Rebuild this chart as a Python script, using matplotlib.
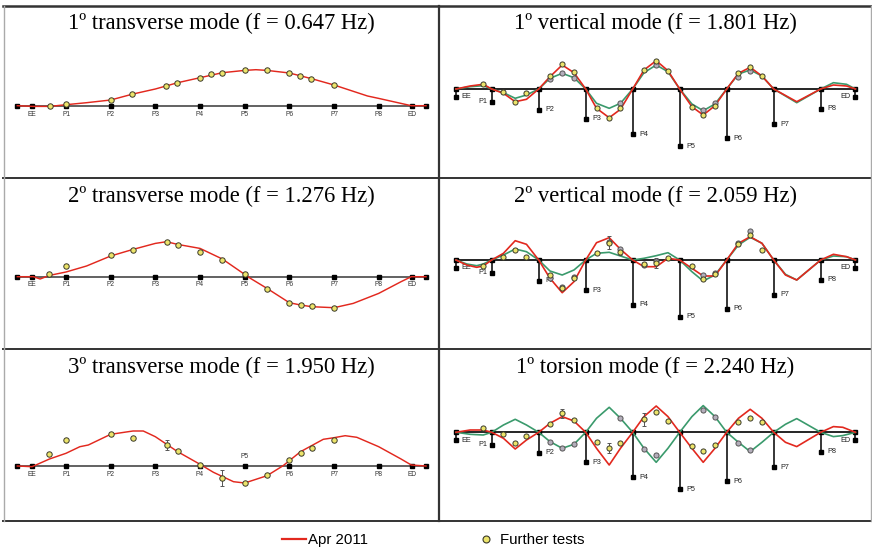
#!/usr/bin/env python3
"""Mode shapes of the bridge deck: Apr 2011 vs further tests (3x2 panel grid)."""

import matplotlib
matplotlib.use("Agg")
import matplotlib.pyplot as plt
from matplotlib.lines import Line2D

W, H = 872, 551
RED = "#e2281e"
GREEN = "#3a9a6c"
YELLOW = "#ece46a"
GRAY = "#b4aebb"
EDGE = "#3a3a2a"

# deck geometry (x in spans, P1 = 1)
deck_nodes = ["EE", "P1", "P2", "P3", "P4", "P5", "P6", "P7", "P8", "ED"]
deck_x = [0.24, 1, 2, 3, 4, 5, 6, 7, 8, 8.74]
deck_ext = [-0.09, 9.06]
pier_depth = [7.7, 12.5, 20.5, 30, 45, 57, 49, 35, 19.5, 7.7]

titles = [
    "1º transverse mode (f = 0.647 Hz)", "1º vertical mode (f = 1.801 Hz)",
    "2º transverse mode (f = 1.276 Hz)", "2º vertical mode (f = 2.059 Hz)",
    "3º transverse mode (f = 1.950 Hz)", "1º torsion mode (f = 2.240 Hz)",
]

# 1st transverse
t1_x = [-0.09, 0.27, 0.64, 1, 1.46, 2, 2.5, 3, 3.5, 4, 4.5, 5, 5.25, 5.5, 6, 6.5, 7,
        7.75, 8, 8.5, 8.73, 9.06]
t1_apr = [0, -0.7, -0.7, 1, 3, 5.7, 11.7, 16.7, 23, 28, 33, 35.3, 36, 35.3, 32.7, 27,
          20.7, 9.7, 7.3, 2.3, 0, 0]
t1_ft_x = [0.64, 1, 2, 2.48, 3.24, 3.49, 4, 4.24, 4.49, 5, 5.49, 6, 6.24, 6.49, 7]
t1_ft = [-0.7, 1.7, 5.7, 11.7, 20, 23, 28, 31.7, 33, 35.3, 35.3, 32.7, 30, 27, 20.7]

# 2nd transverse
t2_x = [-0.09, 0.27, 0.42, 0.63, 1, 1.46, 2, 2.5, 3, 3.25, 3.5, 4, 4.5, 4.75, 5, 5.13,
        5.5, 6, 6.25, 6.5, 7, 7.43, 8, 8.5, 8.73, 9.06]
t2_apr = [0, 0, -2.3, 1.3, 4.7, 10.7, 20.7, 27.3, 33.3, 35, 32.3, 28.3, 17.7, 10, 2.3,
          -1.7, -11.7, -26, -28.3, -30, -31, -26.7, -16.7, -5, 0, 0]
t2_ft_x = [0.63, 1, 2, 2.5, 3.25, 3.5, 4, 4.5, 5, 5.5, 6, 6.25, 6.5, 7]
t2_ft = [2.7, 11, 21.3, 26.3, 35, 31.3, 24.3, 16.7, 3, -12.3, -26.7, -28.3, -29.3, -31.3]

# 3rd transverse
t3_x = [-0.09, 0.24, 0.63, 1, 1.31, 1.5, 2, 2.5, 2.73, 3, 3.5, 4, 4.3, 4.75, 5, 5.5,
        5.86, 6.25, 6.76, 7, 7.25, 7.51, 8, 8.5, 8.73, 9.06]
t3_apr = [0, -0.7, 7, 12.7, 19.3, 21, 31.7, 35, 35, 29.3, 14.3, 1.7, -6.3, -15.7, -17,
          -9.7, 0.3, 14.3, 26.7, 28.3, 30.3, 28.7, 19.3, 7, 1, 0]
t3_ft_x = [0.63, 1, 2, 2.5, 3.25, 3.5, 4, 4.5, 5, 5.5, 6, 6.25, 6.5, 7]
t3_ft = [11.7, 25.7, 31.7, 28.3, 21, 15.3, 1, -11.7, -17, -9, 5.7, 12.7, 18.3, 25.7]
t3_err_x = [3.25, 4.5]
t3_err_y = [21, -11.7]
t3_err = [5, 8]

# 1st vertical
v1_x = [0.24, 0.54, 0.82, 1, 1.25, 1.5, 1.74, 2, 2.24, 2.5, 2.75, 3, 3.23, 3.5, 3.74, 4,
        4.24, 4.5, 4.75, 5, 5.26, 5.5, 5.75, 6, 6.25, 6.5, 6.75, 7, 7.49, 8, 8.27, 8.55,
        8.74]
v1_apr = [0, 3, 4.7, 0, -4.3, -12.7, -10.3, 0, 12.3, 24, 16.3, 0, -19.3, -28.7, -20.3,
          0, 19, 28.3, 18.3, 0, -17.7, -26, -16.7, 0, 15.7, 21.7, 13, 0, -12.7, 0, 4, 3, 0]
v1_num = [0, 2.3, 3.3, 0, -3.7, -9.3, -6, 0, 10.7, 15.7, 11.3, 0, -14.3, -19.3, -14.3,
          0, 16.3, 24, 17.3, 0, -15, -21.7, -15, 0, 15, 19, 13, 0, -13.7, 0, 6.3, 4.7, 0]
v1_ft_x = [0.82, 1.25, 1.5, 1.74, 2.24, 2.5, 2.75, 3.23, 3.5, 3.74, 4.24, 4.5, 4.75,
           5.26, 5.5, 5.75, 6.25, 6.5, 6.75]
v1_ft = [4.7, -2.7, -12.7, -4.3, 13.3, 25, 16.7, -19.3, -28.7, -19.3, 19, 28.3, 18.3,
         -17.7, -26.3, -17, 16.3, 21.7, 13.3]
v1_oth_x = [2.24, 2.5, 2.75, 3.74, 4.5, 5.5, 5.75, 6.25, 6.5]
v1_oth = [10.3, 15.7, 11.3, -14.3, 24, -21, -13.7, 11.7, 18]

# 2nd vertical
v2_x = [0.24, 0.47, 0.68, 0.82, 1, 1.25, 1.5, 1.74, 2, 2.24, 2.5, 2.75, 3, 3.23, 3.5,
        3.74, 4, 4.24, 4.5, 4.75, 5, 5.26, 5.5, 5.75, 6, 6.25, 6.5, 6.75, 7, 7.25, 7.49,
        8, 8.27, 8.55, 8.74]
v2_apr = [0, -5, -7.3, -6, 0, 6.7, 19.3, 15.7, 0, -18.3, -32.7, -21.7, 0, 17.3, 22.3,
          10.7, 0, -6.7, -6.7, 1.7, 0, -8.3, -16, -16, 0, 16.7, 23.3, 16.7, 0, -15, -20,
          0, 5.7, 3.3, 0]
v2_num = [0, -4, -5.7, -4, 0, 5, 11, 8.3, 0, -11, -15, -10, 0, 6.7, 7.7, 4, 0, 1.7, 4.3,
          7.3, 0, -11.7, -21, -15, 0, 15, 22.7, 16.7, 0, -14.3, -20, 0, 4, 3.3, 0]
v2_ft_x = [0.82, 1.25, 1.5, 1.74, 2.24, 2.5, 2.75, 3.23, 3.5, 3.74, 4.24, 4.5, 4.75,
           5.26, 5.5, 5.75, 6.25, 6.5, 6.75]
v2_ft = [-5.7, 3.3, 10, 3.3, -15, -28.3, -18.3, 7.3, 17.3, 8.3, -4, -2.7, 1.7, -5.7,
         -19.3, -14.3, 15.7, 25, 10]
v2_oth_x = [2.24, 2.5, 2.75, 3.5, 3.74, 4.24, 4.5, 5.5, 5.75, 6.25, 6.5]
v2_oth = [-18.3, -26.7, -16.7, 18.3, 10.7, -5, -0.7, -15, -12.7, 16.7, 29.3]
v2_err_x = [3.5, 3.74, 4.5]
v2_err_y = [17.3, 8.3, -2.7]
v2_err = [6.7, 3, 5]

# 1st torsion
to_x = [0.24, 0.54, 0.82, 1, 1.25, 1.5, 1.74, 2, 2.24, 2.5, 2.75, 3, 3.23, 3.5, 3.74, 4,
        4.24, 4.5, 4.75, 5, 5.26, 5.5, 5.75, 6, 6.25, 6.5, 6.75, 7, 7.25, 7.49, 8, 8.27,
        8.47, 8.74]
to_apr = [0, 2.3, 2.3, 0, -6, -16.7, -7.7, 0, 9, 15.7, 11.3, 0, -16, -32.7, -16, 0, 15.7,
          26.3, 15.7, 0, -16, -30, -16, 0, 14, 23, 14, 0, -10, -14.3, 0, 5.7, 5, 0]
to_num = [0, -2, -2.7, 0, 7.3, 13, 7.3, 0, -9.3, -16, -12, 0, 14, 25, 14, 0, -16, -30,
          -16, 0, 15.7, 26.7, 15.7, 0, -10, -19.3, -10, 0, 8, 13.7, 0, -4.3, -3.3, 0]
to_ft_x = [0.82, 1.25, 1.5, 1.74, 2.24, 2.5, 2.75, 3.23, 3.5, 3.74, 4.24, 4.5, 4.75,
           5.26, 5.5, 5.75, 6.25, 6.5, 6.75]
to_ft = [4, -1.7, -10.3, -3.3, 8.3, 19, 12.3, -10, -16, -11, 13, 20, 11.7, -13.3, -18.3,
         -12.7, 10, 14, 10]
to_oth_x = [2.24, 2.5, 2.75, 3.74, 4.24, 4.5, 5.5, 5.75, 6.25, 6.5]
to_oth = [-10, -16, -12, 14.7, -16.7, -22.7, 22.3, 15, -10.3, -17.7]
to_err_x = [2.5, 3.5, 4.24]
to_err_y = [19, -16, 13]
to_err = [4.5, 5, 6.7]


def panel_axes(fig, x0, x1, y0, y1, unit_px, p1_px, deck_px):
    """Axes over a panel; x in spans, y in pixels above the deck."""
    ax = fig.add_axes([x0 / W, 1 - y1 / H, (x1 - x0) / W, (y1 - y0) / H])
    ax.set_xlim(1 + (x0 - p1_px) / unit_px, 1 + (x1 - p1_px) / unit_px)
    ax.set_ylim(-(y1 - deck_px), deck_px - y0)
    ax.axis("off")
    return ax


def draw_errors(ax, ex, ey, ee):
    ax.errorbar(ex, ey, yerr=ee, fmt="none", ecolor="#555555", elinewidth=0.7,
                capsize=1.5, capthick=0.7, zorder=4)


def draw_transverse(ax, x, apr, ft_x, ft, err=None, above=()):
    ax.plot(deck_ext, [0, 0], color="#555555", lw=1.3, zorder=1)
    nodes = [deck_ext[0]] + deck_x + [deck_ext[1]]
    ax.plot(nodes, [0] * len(nodes), "s", color="k", ms=2.2, zorder=2)
    for name, nx in zip(deck_nodes, deck_x):
        ax.text(nx, 10 if name in above else -8.3, name, fontsize=4.8,
                family="Liberation Sans", color="#333333", ha="center", va="center")
    ax.plot(x, apr, color=RED, lw=1.05, zorder=3)
    if err:
        draw_errors(ax, *err)
    ax.plot(ft_x, ft, "o", mfc=YELLOW, mec=EDGE, mew=0.7, ms=3.9, zorder=5)


def draw_vertical(ax, x, apr, num, ft_x, ft, oth_x, oth, err=None):
    for nx, d in zip(deck_x, pier_depth):
        ax.plot([nx, nx], [0, -d], color="k", lw=1.1, zorder=1)
    ax.plot(deck_x, [-d for d in pier_depth], "s", color="k", ms=2.2, zorder=1)
    ax.plot([deck_x[0], deck_x[-1]], [0, 0], color="k", lw=1.2, zorder=1)
    ax.plot(deck_x, [0] * len(deck_x), "s", color="k", ms=2.4, zorder=2)
    for name, nx, d in zip(deck_nodes, deck_x, pier_depth):
        left = name in ("P1", "ED")
        dx = -0.1 if left else (0.11 if name == "EE" else 0.15)
        ax.text(nx + dx, -d, name, fontsize=5.2, family="Liberation Sans",
                color="#222222", ha="right" if left else "left", va="center")
    ax.plot(x, num, color=GREEN, lw=1.2, zorder=3)
    ax.plot(x, apr, color=RED, lw=1.2, zorder=3)
    if err:
        draw_errors(ax, *err)
    ax.plot(oth_x, oth, "o", mfc=GRAY, mec="#555555", mew=0.7, ms=3.7, zorder=5)
    ax.plot(ft_x, ft, "o", mfc=YELLOW, mec=EDGE, mew=0.7, ms=3.7, zorder=6)


fig = plt.figure(figsize=(W / 100, H / 100), dpi=100)

rows = [(6, 178.3), (178.3, 349.3), (349.3, 521)]
left_deck = [105.7, 276.7, 466]
right_deck = [89, 260, 432.3]
title_y = [23, 196, 367]

ax = panel_axes(fig, 3.5, 439, *rows[0], 44.67, 66, left_deck[0])
draw_transverse(ax, t1_x, t1_apr, t1_ft_x, t1_ft)
ax = panel_axes(fig, 3.5, 439, *rows[1], 44.67, 66, left_deck[1])
draw_transverse(ax, t2_x, t2_apr, t2_ft_x, t2_ft)
ax = panel_axes(fig, 3.5, 439, *rows[2], 44.67, 66, left_deck[2])
draw_transverse(ax, t3_x, t3_apr, t3_ft_x, t3_ft,
                err=(t3_err_x, t3_err_y, t3_err), above=("P5",))

ax = panel_axes(fig, 439, 870.7, *rows[0], 47, 491.7, right_deck[0])
draw_vertical(ax, v1_x, v1_apr, v1_num, v1_ft_x, v1_ft, v1_oth_x, v1_oth)
ax = panel_axes(fig, 439, 870.7, *rows[1], 47, 491.7, right_deck[1])
draw_vertical(ax, v2_x, v2_apr, v2_num, v2_ft_x, v2_ft, v2_oth_x, v2_oth,
              err=(v2_err_x, v2_err_y, v2_err))
ax = panel_axes(fig, 439, 870.7, *rows[2], 47, 491.7, right_deck[2])
draw_vertical(ax, to_x, to_apr, to_num, to_ft_x, to_ft, to_oth_x, to_oth,
              err=(to_err_x, to_err_y, to_err))

# titles
for i, t in enumerate(titles):
    cx = 221 if i % 2 == 0 else 655
    fig.text(cx / W, 1 - title_y[i // 2] / H, t, fontsize=16.3,
             family="Liberation Serif", ha="center", va="center")

# panel grid lines
def hline(y, x0, x1, color="#333333", lw=1.4):
    fig.add_artist(Line2D([x0 / W, x1 / W], [1 - y / H, 1 - y / H], color=color, lw=lw))

def vline(x, y0, y1, color="#333333", lw=1.4):
    fig.add_artist(Line2D([x / W, x / W], [1 - y0 / H, 1 - y1 / H], color=color, lw=lw))

hline(6, 3, 871, lw=1.8)
hline(178.3, 3, 871)
hline(349.3, 3, 871)
hline(521, 3, 871)
vline(439, 6, 521, lw=1.6)
vline(3.5, 6, 521, color="#aaaaaa", lw=1.0)
vline(870.5, 6, 521, color="#aaaaaa", lw=1.0)

# legend
h_red = Line2D([], [], color=RED, lw=1.6)
h_dot = Line2D([], [], ls="none", marker="o", mfc=YELLOW, mec=EDGE, mew=0.8, ms=5)
for h, lab, x0 in [(h_red, "Apr 2011", 282), (h_dot, "Further tests", 474)]:
    fig.legend([h], [lab], loc="center left", bbox_to_anchor=(x0 / W, 1 - 540 / H),
               frameon=False, borderpad=0, borderaxespad=0, handlelength=1.6,
               handletextpad=0.15, prop={"family": "Liberation Sans", "size": 10.8})

fig.savefig("out.png", dpi=100)
